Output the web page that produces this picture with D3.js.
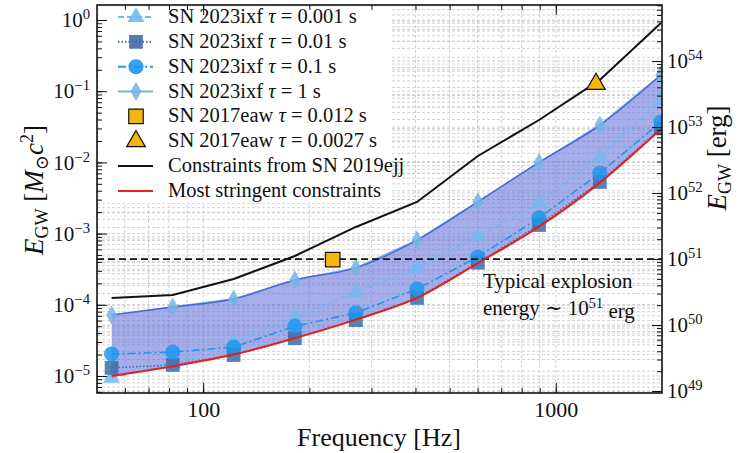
<!DOCTYPE html>
<html>
<head>
<meta charset="utf-8">
<script src="https://cdn.jsdelivr.net/npm/d3@7"></script>
<style>
  body { margin: 0; background: #fff; }
  svg, text { font-family: 'Liberation Serif', 'DejaVu Serif', serif; }
  text { fill: #111; }
</style>
</head>
<body>
<div id="chart"></div>
<script>
// Data
const freqs = [55, 82, 122, 182, 271, 404, 601, 896, 1333, 1986]
const tau0001 = [9.4e-6, 1.5e-5, 3.0e-5, 6.7e-5, 1.5e-4, 3.3e-4, 9.0e-4, 2.7e-3, 1.2e-2, 7.5e-2]
const tau001 = [1.3e-5, 1.43e-5, 1.97e-5, 3.4e-5, 6.1e-5, 1.25e-4, 3.9e-4, 1.32e-3, 5.3e-3, 3.0e-2]
const tau01 = [2.04e-5, 2.17e-5, 2.55e-5, 5.0e-5, 7.7e-5, 1.67e-4, 4.7e-4, 1.66e-3, 7.1e-3, 3.7e-2]
const tau1 = [7.2e-5, 9.3e-5, 1.21e-4, 2.23e-4, 3.3e-4, 8.1e-4, 2.8e-3, 1.0e-2, 3.35e-2, 0.169]
const ejj2019 = [1.25e-4, 1.37e-4, 2.3e-4, 4.85e-4, 1.24e-3, 2.78e-3, 1.23e-2, 3.94e-2, 0.144, 0.91]
const stringent = [1.0e-5, 1.37e-5, 2.0e-5, 3.4e-5, 6.2e-5, 1.25e-4, 3.85e-4, 1.25e-3, 5.2e-3, 2.95e-2]
const eaw2017 = [
  { f: 233, e: 4.3e-4, shape: 'square' },
  { f: 1300, e: 0.126, shape: 'triangle' }
]
const explosionErg = 1e51
const leftTicks = [1e-5, 1e-4, 1e-3, 1e-2, 1e-1, 1e0]
const rightTicks = [1e49, 1e50, 1e51, 1e52, 1e53, 1e54]
const xTicks = [100, 1000]

const margin = { top: 5, left: 97, right: 76, bottom: 60 }
const width = 738 - margin.left - margin.right
const height = 453 - margin.top - margin.bottom

const root = d3
  .select('#chart')
  .append('svg')
  .attr('width', 738)
  .attr('height', 453)

const svg = root
  .append('g')
  .attr('transform', 'translate(' + margin.left + ',' + margin.top + ')')

// Create your scales
const xPositionScale = d3.scaleLog().domain([50, 2000]).range([0, width])
const yPositionScale = d3.scaleLog().domain([5.77e-6, 1.625]).range([height, 0])
const yErgScale = d3
  .scaleLog()
  .domain([Math.pow(10, 48.97), Math.pow(10, 54.85)])
  .range([height, 0])

svg
  .append('clipPath')
  .attr('id', 'plot-clip')
  .append('rect')
  .attr('width', width)
  .attr('height', height)

// Grid
const grid = svg.append('g').attr('stroke', '#bdbdbd').attr('stroke-width', 0.7).attr('stroke-dasharray', '3,2')
const isEdge = v => v <= 50 || v >= 2000
grid
  .selectAll('.vgrid')
  .data(xPositionScale.ticks().filter(v => !isEdge(v)))
  .enter()
  .append('line')
  .attr('x1', d => xPositionScale(d))
  .attr('x2', d => xPositionScale(d))
  .attr('y1', 0)
  .attr('y2', height)
grid
  .selectAll('.hgrid')
  .data(yPositionScale.ticks())
  .enter()
  .append('line')
  .attr('x1', 0)
  .attr('x2', width)
  .attr('y1', d => yPositionScale(d))
  .attr('y2', d => yPositionScale(d))
grid
  .selectAll('.hgrid2')
  .data(yErgScale.ticks())
  .enter()
  .append('line')
  .attr('x1', 0)
  .attr('x2', width)
  .attr('y1', d => yErgScale(d))
  .attr('y2', d => yErgScale(d))

const plot = svg.append('g').attr('clip-path', 'url(#plot-clip)')

const rows = freqs.map((f, i) => ({
  f: f,
  t0001: tau0001[i],
  t001: tau001[i],
  t01: tau01[i],
  t1: tau1[i],
  ejj: ejj2019[i],
  low: stringent[i]
}))

// Band between the tau = 1 s curve and the most stringent limits
const band = d3
  .area()
  .x(d => xPositionScale(d.f))
  .y0(d => yPositionScale(d.low))
  .y1(d => yPositionScale(d.t1))
  .curve(d3.curveMonotoneX)

plot
  .append('path')
  .datum(rows)
  .attr('d', band)
  .attr('fill', '#5e6fdc')
  .attr('fill-opacity', 0.56)

const series = [
  { key: 't0001', color: '#72baf0', dash: '6,3', symbol: 'triangle', label: '0.001' },
  { key: 't001', color: '#3d6ca6', dash: '1.5,2', symbol: 'square', label: '0.01' },
  { key: 't01', color: '#1e96ec', dash: '8,3,2,3', symbol: 'circle', label: '0.1' },
  { key: 't1', color: '#74b4e4', dash: null, symbol: 'diamond', label: '1' }
]

const symbolPath = function(kind) {
  if (kind === 'triangle') return d3.symbol(d3.symbolTriangle, 125)()
  if (kind === 'square') return d3.symbol(d3.symbolSquare, 190)()
  if (kind === 'circle') return d3.symbol(d3.symbolCircle, 180)()
  return 'M0,-9.5L5.5,0L0,9.5L-5.5,0Z'
}

series.forEach(function(s) {
  const line = d3
    .line()
    .x(d => xPositionScale(d.f))
    .y(d => yPositionScale(d[s.key]))
  plot
    .append('path')
    .datum(rows)
    .attr('d', line)
    .attr('fill', 'none')
    .attr('stroke', s.color)
    .attr('stroke-width', 1.6)
    .attr('stroke-dasharray', s.dash)
})

// upper edge of the band
plot
  .append('path')
  .datum(rows)
  .attr('d', d3.line().x(d => xPositionScale(d.f)).y(d => yPositionScale(d.t1)).curve(d3.curveMonotoneX))
  .attr('fill', 'none')
  .attr('stroke', '#4a68d2')
  .attr('stroke-width', 1.5)

series.forEach(function(s) {
  plot
    .selectAll('.m-' + s.key)
    .data(rows)
    .enter()
    .append('path')
    .attr('d', symbolPath(s.symbol))
    .attr('transform', d => 'translate(' + xPositionScale(d.f) + ',' + yPositionScale(d[s.key]) + ')')
    .attr('fill', s.color)
    .attr('fill-opacity', 0.85)
})

// Typical explosion energy, 10^51 erg
plot
  .append('line')
  .attr('x1', 0)
  .attr('x2', width)
  .attr('y1', yErgScale(explosionErg))
  .attr('y2', yErgScale(explosionErg))
  .attr('stroke', '#111')
  .attr('stroke-width', 1.8)
  .attr('stroke-dasharray', '7,4')

plot
  .append('path')
  .datum(rows)
  .attr('d', d3.line().x(d => xPositionScale(d.f)).y(d => yPositionScale(d.low)).curve(d3.curveMonotoneX))
  .attr('fill', 'none')
  .attr('stroke', '#e3211c')
  .attr('stroke-width', 2)

plot
  .append('path')
  .datum(rows)
  .attr('d', d3.line().x(d => xPositionScale(d.f)).y(d => yPositionScale(d.ejj)))
  .attr('fill', 'none')
  .attr('stroke', '#111')
  .attr('stroke-width', 2)

plot
  .selectAll('.eaw')
  .data(eaw2017)
  .enter()
  .append('path')
  .attr('d', d => (d.shape === 'square' ? d3.symbol(d3.symbolSquare, 210)() : d3.symbol(d3.symbolTriangle, 150)()))
  .attr('transform', d => 'translate(' + xPositionScale(d.f) + ',' + yPositionScale(d.e) + ')')
  .attr('fill', '#f6b50a')
  .attr('stroke', '#111')
  .attr('stroke-width', 1.2)

// Legend
const legend = svg.append('g').attr('transform', 'translate(2,2)')
legend
  .append('rect')
  .attr('width', 293)
  .attr('height', 196)
  .attr('fill', '#fff')

const legendItems = series
  .map(s => ({ type: 'series', s: s, name: 'SN 2023ixf ', tau: s.label }))
  .concat([
    { type: 'eaw', shape: 'square', name: 'SN 2017eaw ', tau: '0.012' },
    { type: 'eaw', shape: 'triangle', name: 'SN 2017eaw ', tau: '0.0027' },
    { type: 'line', color: '#111', name: 'Constraints from SN 2019ejj' },
    { type: 'line', color: '#e3211c', name: 'Most stringent constraints' }
  ])

legendItems.forEach(function(item, i) {
  const g = legend.append('g').attr('transform', 'translate(0,' + (10 + i * 24.85) + ')')
  if (item.type === 'series') {
    g.append('line')
      .attr('x1', 19)
      .attr('x2', 54)
      .attr('stroke', item.s.color)
      .attr('stroke-width', 2)
      .attr('stroke-dasharray', item.s.dash)
    g.append('path')
      .attr('d', symbolPath(item.s.symbol))
      .attr('transform', 'translate(37,0)')
      .attr('fill', item.s.color)
      .attr('fill-opacity', 0.9)
  } else if (item.type === 'eaw') {
    g.append('path')
      .attr('d', item.shape === 'square' ? d3.symbol(d3.symbolSquare, 210)() : d3.symbol(d3.symbolTriangle, 150)())
      .attr('transform', 'translate(37,0)')
      .attr('fill', '#f6b50a')
      .attr('stroke', '#111')
      .attr('stroke-width', 1.2)
  } else {
    g.append('line')
      .attr('x1', 19)
      .attr('x2', 54)
      .attr('stroke', item.color)
      .attr('stroke-width', 2)
  }
  const t = g.append('text').attr('x', 69).attr('y', 6).attr('font-size', 20.5)
  t.append('tspan').text(item.name)
  if (item.tau) {
    t.append('tspan').attr('font-style', 'italic').text('τ')
    t.append('tspan').text(' = ' + item.tau + ' s')
  }
})

// Add your axes
const expLabel = function(g) {
  g.selectAll('.tick text').each(function(d) {
    const t = d3.select(this)
    const p = Math.round(Math.log10(d))
    t.text(null)
    t.append('tspan').text('10')
    t.append('tspan')
      .attr('dy', '-0.55em')
      .attr('font-size', '70%')
      .text(p < 0 ? '−' + -p : p)
  })
}

const styleAxis = function(g) {
  g.attr('font-family', null).attr('font-size', 21)
  g.select('.domain').remove()
  g.selectAll('.tick line').attr('stroke', '#111').attr('stroke-width', 1)
  g.selectAll('.tick text').attr('fill', '#111')
}

// minor ticks
svg.append('g')
  .call(d3.axisLeft(yPositionScale).tickValues(yPositionScale.ticks()).tickSize(-5).tickFormat(''))
  .call(styleAxis)
svg.append('g')
  .attr('transform', 'translate(' + width + ',0)')
  .call(d3.axisRight(yErgScale).tickValues(yErgScale.ticks()).tickSize(-5).tickFormat(''))
  .call(styleAxis)
svg.append('g')
  .attr('transform', 'translate(0,' + height + ')')
  .call(d3.axisBottom(xPositionScale).tickValues(xPositionScale.ticks().filter(v => !isEdge(v))).tickSize(-5).tickFormat(''))
  .call(styleAxis)
svg.append('g')
  .call(d3.axisTop(xPositionScale).tickValues(xPositionScale.ticks().filter(v => !isEdge(v))).tickSize(-5).tickFormat(''))
  .call(styleAxis)

// major ticks
svg.append('g')
  .call(d3.axisLeft(yPositionScale).tickValues(leftTicks).tickSize(-10).tickPadding(7))
  .call(styleAxis)
  .call(expLabel)
svg.append('g')
  .attr('transform', 'translate(' + width + ',0)')
  .call(d3.axisRight(yErgScale).tickValues(rightTicks).tickSize(-10).tickPadding(5))
  .call(styleAxis)
  .call(expLabel)
svg.append('g')
  .attr('transform', 'translate(0,' + height + ')')
  .call(d3.axisBottom(xPositionScale).tickValues(xTicks).tickSize(-10).tickPadding(8).tickFormat(d3.format('d')))
  .call(styleAxis)
  .attr('font-size', 22)
svg.append('g')
  .call(d3.axisTop(xPositionScale).tickValues(xTicks).tickSize(-10).tickFormat(''))
  .call(styleAxis)

svg
  .append('rect')
  .attr('width', width)
  .attr('height', height)
  .attr('fill', 'none')
  .attr('stroke', '#111')
  .attr('stroke-width', 1.6)

// Annotation
const note = svg.append('g').attr('font-size', 21)
note.append('text').attr('x', 386).attr('y', 283).text('Typical explosion')
const note2 = note.append('text').attr('x', 386).attr('y', 310)
note2.append('tspan').text('energy ∼ 10')
note2.append('tspan').attr('dy', '-0.5em').attr('font-size', '68%').text('51')
note2.append('tspan').attr('dy', '0.5em').text(' erg')

// Axis labels
root
  .append('text')
  .attr('x', 379)
  .attr('y', 446)
  .attr('text-anchor', 'middle')
  .attr('font-size', 26)
  .text('Frequency [Hz]')

const yLabel = root
  .append('text')
  .attr('transform', 'translate(43,190) rotate(-90)')
  .attr('text-anchor', 'middle')
  .attr('font-size', 27)
yLabel.append('tspan').attr('font-style', 'italic').text('E')
yLabel.append('tspan').attr('dy', 5).attr('font-size', 18).text('GW')
yLabel.append('tspan').attr('dy', -5).text(' [')
yLabel.append('tspan').attr('font-style', 'italic').text('M')
yLabel.append('tspan').attr('dy', 5).attr('font-size', 18).text('⊙')
yLabel.append('tspan').attr('dy', -5).attr('font-style', 'italic').text('c')
yLabel.append('tspan').attr('dy', -10).attr('font-size', 18).text('2')
yLabel.append('tspan').attr('dy', 10).text(']')

const yLabel2 = root
  .append('text')
  .attr('transform', 'translate(726,158) rotate(-90)')
  .attr('text-anchor', 'middle')
  .attr('font-size', 27)
yLabel2.append('tspan').attr('font-style', 'italic').text('E')
yLabel2.append('tspan').attr('dy', 5).attr('font-size', 18).text('GW')
yLabel2.append('tspan').attr('dy', -5).text(' [erg]')
</script>
</body>
</html>
